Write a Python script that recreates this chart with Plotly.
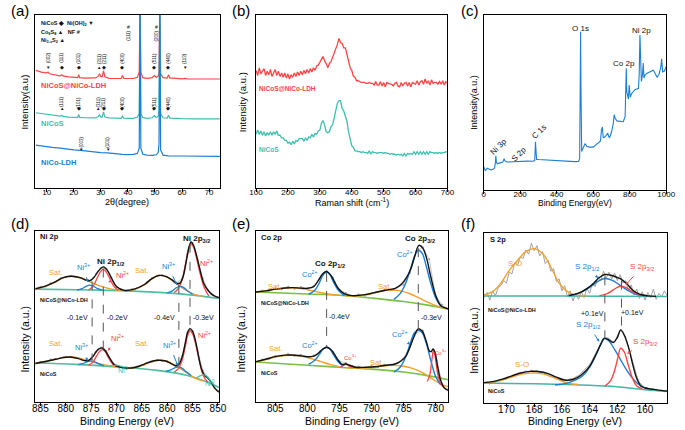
import plotly.graph_objects as go

W, H = 685, 430
FONT = "Liberation Sans, Arial, sans-serif"

RED = "#ff4545"
TEAL = "#3dbfad"
BLUE = "#1c7fd6"
ORANGE = "#f2a12c"
GREEN = "#7ac143"
BLACK = "#111111"
GRAY = "#a0a0a0"

# ---------------- (a) XRD ----------------
xrd_nicos_ldh = [(6, 68), (8, 67), (10, 66.5), (10.5, 67), (11, 66), (13, 65.3), (15, 64.8), (15.5, 65.5),
                 (16, 64.8), (18, 64.2), (20, 63.8), (21.5, 63.8), (21.8, 65.5), (22.2, 63.8), (24, 63.5),
                 (26, 63.5), (28, 63.6), (29, 64.5), (29.5, 66), (30, 64.5), (30.5, 64.3), (31, 67.7),
                 (31.5, 64.3), (33, 63.4), (35, 63.3), (37.5, 63.3), (38, 65), (38.5, 63.4), (40, 63.3),
                 (42, 63.4), (43.5, 64), (44.2, 67), (44.5, 110), (44.8, 67), (45.5, 63.8), (47, 63.4),
                 (49, 63.8), (49.8, 65), (50.5, 64), (51.2, 64.5), (51.5, 68), (51.8, 110), (52.1, 66),
                 (53, 63.8), (54.5, 63.5), (55, 65.4), (55.5, 63.6), (57, 63.3), (60, 63.1), (61, 63.4),
                 (62, 63.1), (65, 63), (70, 63), (74, 63)]
xrd_nicos = [(6, 43.5), (8, 43), (10, 42.8), (12, 42), (15, 41.5), (15.5, 42), (16, 41.4), (18, 41),
             (20, 40.8), (21.5, 40.8), (21.8, 42.5), (22.2, 40.8), (24, 40.6), (26, 40.5), (28, 40.5),
             (29, 41.2), (29.5, 42.3), (30, 41), (30.5, 41), (31, 44), (31.5, 41), (33, 40.5), (35, 40.3),
             (37.5, 40.3), (38, 41.5), (38.5, 40.3), (40, 40.2), (42, 40.3), (43.5, 41), (44.2, 43),
             (44.5, 110), (44.8, 43), (45.5, 40.8), (47, 40.3), (49, 40.6), (49.8, 41.8), (50.5, 40.8),
             (51.2, 41.5), (51.5, 45), (51.8, 110), (52.1, 43), (53, 40.6), (54.5, 40.4), (55, 42),
             (55.5, 40.4), (57, 40.2), (60, 40.1), (65, 40), (70, 40), (74, 40)]
xrd_nico_ldh = [(6, 24.8), (8, 24.5), (10, 24), (12, 23.5), (15, 23), (18, 22.3), (20, 22), (22.5, 21.8),
                (25, 21.2), (28, 20.8), (30, 20.4), (32.5, 20.3), (35, 19.8), (38, 19.4), (40, 19.3),
                (42, 19.4), (43.5, 20), (44.2, 23), (44.5, 110), (44.8, 23), (45.5, 19.5), (47, 19),
                (49, 18.9), (50.5, 19.2), (51.2, 20.5), (51.5, 25), (51.8, 110), (52.1, 22), (53, 19),
                (55, 18.6), (60, 18.5), (65, 18.4), (70, 18.3), (74, 18.3)]

peaks_top = [(10.5, "(002)", "▼"), (15.5, "(111)", "◆"), (21.8, "(101)", "◆"), (29.3, "(311)", "▲"),
             (31.1, "(211)", "◆"), (38, "(400)", "◆"), (49.8, "(511)", "◆"), (55, "(440)", "◆"),
             (61, "(113)", "▼")]
peaks_mid = [(15.5, "(111)", "▲"), (21.8, "(101)", "◆"), (29, "(311)", "▲"), (31.1, "(211)", "◆"),
             (38, "(400)", "◆"), (49.8, "(511)", "◆"), (55, "(440)", "◆")]
peaks_low = [(22.8, "(003)", "▼"), (32.5, "(101)", "▼")]
peaks_nf = [(40.4, "(111)", "#"), (50.7, "(200)", "#")]

# ---------------- (b) Raman ----------------
raman_shift = list(range(100, 701, 5))
raman_ldh = [68, 65, 69.5, 66, 67.5, 69, 65, 67.5, 65.5, 68.5,
             64.5, 67, 68.5, 65, 67.5, 64.5, 66.5, 64, 66.5, 63.5,
             66, 63, 65.5, 64, 66.5, 64.5, 67, 65, 67.5, 65.5,
             68, 66, 68.5, 66.5, 69, 67, 69.5, 68, 70.5, 71,
             72.5, 74, 76, 73.5, 72, 69.5, 72, 73, 75.5, 77,
             80.5, 83, 86.5, 84, 83.5, 81, 81, 76.5, 74, 69.5,
             68, 64.5, 64, 62, 62, 61.5, 61, 61, 61, 60.5,
             60.5, 61, 60.5, 60.5, 59.5, 61.5, 59.5, 59.5, 61.5, 59,
             61, 58.5, 61, 60.5, 60, 60, 59, 60.5, 61, 59,
             58.5, 61, 59, 60.5, 61, 59, 61, 58.5, 61, 60.5,
             60, 62, 59.5, 61.5, 62, 60, 63, 60.5, 62, 59.5,
             62.5, 60.5, 61, 61, 60, 61.5, 60, 62, 59.5, 61.5,
             60.5]
raman_nicos = [31, 33.5, 31, 33, 30.5, 32.5, 30, 32, 30.5, 32.5,
               30.5, 32.5, 31, 33, 30.5, 30.5, 29, 29, 27.5, 27.5,
               26, 26.5, 25, 27, 25.5, 27.5, 27, 28.5, 28.5, 28.5,
               27, 29, 27.5, 29.5, 29, 31, 29.5, 31.5, 31, 33,
               33.5, 37.5, 39, 36.5, 32.5, 32, 32.5, 35.5, 36.5, 40.5,
               43.5, 49, 50.5, 50.5, 46, 44.5, 41.5, 38.5, 32.5, 29,
               24.5, 23.5, 21.5, 21.5, 21, 21, 20.5, 21, 20.5, 20.5,
               20, 21.5, 19.5, 21, 20.5, 20.5, 20, 20.5, 20.5, 20.5,
               20, 20.5, 20, 20, 19.5, 20, 19.5, 19.5, 19, 19.5,
               19, 19.5, 18.5, 20, 18.5, 20, 19.5, 20, 19.5, 21,
               19.5, 21, 19.5, 21, 19.5, 21, 19.5, 21, 19.5, 21,
               20.5, 20.5, 20, 20.5, 20, 20.5, 20, 20.5, 20.5, 21,
               20.5]

# ---------------- (c) XPS survey ----------------
survey = [(0, 13.5), (5, 11.5), (10, 11), (20, 12.5), (30, 12), (40, 11.5), (50, 11.8), (60, 12.5), (65, 16),
          (67, 19.5), (70, 16), (75, 15), (90, 15.5), (105, 16), (112, 17.8), (118, 16.5), (130, 16),
          (160, 16.2), (200, 16.4), (240, 16.5), (270, 16.4), (280, 16.8), (284, 27.5), (287, 17.5),
          (290, 17.5), (300, 17.4), (350, 17), (400, 16.8), (450, 16.5), (500, 16.2), (520, 16.3),
          (526, 18), (529, 60), (531, 90.5), (533, 60), (537, 22), (545, 24), (555, 26.5), (565, 25),
          (580, 24.5), (600, 24.5), (620, 26), (630, 27), (640, 28), (645, 34), (650, 36), (655, 30),
          (660, 30), (670, 31), (680, 32.5), (685, 30.5), (690, 30), (700, 33), (710, 38), (715, 43),
          (720, 41), (730, 39.5), (750, 39), (765, 39), (775, 42), (778, 55), (781, 69.5), (784, 56),
          (788, 53), (793, 52), (797, 60), (800, 54), (803, 53), (810, 55), (830, 57.5), (848, 58),
          (852, 66), (856, 88.5), (860, 70), (864, 62), (870, 66), (874, 72.5), (878, 64), (885, 66),
          (900, 67), (930, 68.5), (950, 64.5), (960, 66), (970, 70), (975, 75), (980, 67.5), (990, 68),
          (1000, 70.5)]
survey_labels = [(83.6, 24.8, "Ni 3p", -45), (194, 20, "S 2p", -45), (306, 33.3, "C 1s", -45),
                 (532, 92.4, "O 1s", 0), (769, 72.4, "Co 2p", 0), (866, 91.4, "Ni 2p", 0)]

# ---------------- (d) Ni 2p ----------------
ni_be = list(range(886, 849, -1))
ni_raw_top = [66, 67.4, 67.5, 69.5, 70.2, 72.3, 73, 73.8, 73.3, 72.3,
              71.5, 71.2, 74.8, 78.3, 78, 72.7, 67.2, 65.8, 65, 65.9,
              66.5, 67.8, 70, 72.5, 73.8, 74.2, 73, 71.5, 69.8, 72.4,
              86.5, 93, 83, 72.5, 65.7, 62.8, 61.2]
ni_raw_bot = [22.3, 23.4, 23.5, 24.8, 25.2, 25.6, 26.5, 26.1, 25.9, 25.1,
              24, 25, 29.3, 31.8, 29.7, 24, 21.2, 20.4, 19.6, 20.2,
              20.7, 21.5, 22.9, 23.6, 24.6, 24, 23.8, 22.1, 21.4, 27.2,
              40.8, 41.2, 29.8, 18.5, 14.3, 10.5, 6.4]
ni_bg_top = [(886, 66), (875, 65.5), (868, 65), (860, 63.8), (855, 62.5), (849.8, 60.5)]
ni_sat1_top = [(886, 66), (884, 67.7), (882, 70.3), (880.5, 72.6), (878.8, 73.5), (877, 72.5), (875, 70),
               (873, 67.6), (871, 66), (869, 65.3)]
ni3_top1 = [(877.8, 65.4), (876.8, 66.3), (876, 67.6), (875.3, 68.3), (874.6, 67.8), (873.8, 66.5), (872.8, 65.4)]
ni2_top1 = [(875.5, 65.5), (874.6, 67.8), (873.8, 72.5), (873.2, 76), (872.6, 77.5), (872, 76), (871.3, 72),
            (870.5, 67.6), (869.6, 65.3)]
ni_sat2_top = [(868.5, 65), (866.5, 65.8), (864.5, 68.5), (863, 72), (861.7, 74), (860.3, 73.3), (859, 71),
               (857.5, 67.8), (856, 64.8), (854.5, 62.8), (853, 61.8)]
ni3_top2 = [(860, 63.8), (859, 65), (858.2, 66.8), (857.5, 67.6), (856.8, 67), (856, 65), (855, 63)]
ni2_top2 = [(858.6, 64), (857.8, 66.5), (857, 72), (856.3, 82), (855.8, 89.5), (855.3, 92.6), (854.8, 90.5),
            (854.2, 84), (853.5, 75), (852.7, 67), (851.8, 62)]
ni_env_top = [(886, 66.2), (884, 67.8), (882, 70.4), (880.5, 72.7), (878.8, 73.5), (877, 72.6), (876, 71.3),
              (875.2, 71), (874.4, 73), (873.6, 76.5), (872.6, 79), (871.8, 77), (871, 72.5), (870, 67.5),
              (868.5, 65.3), (866.5, 66), (864.5, 68.7), (863, 72.2), (861.7, 74), (860.3, 73.5), (859, 71.3),
              (858.2, 69.3), (857.5, 69.5), (856.8, 74), (856.2, 83), (855.7, 90.5), (855.3, 93.6),
              (854.8, 91.5), (854.2, 85.5), (853.5, 77), (852.8, 69.5), (852, 65.5), (851, 62.5), (849.8, 61)]
ni_bg_bot = [(886, 22.8), (878, 22), (870, 20.5), (862, 18.5), (856, 15.5), (852, 11.5), (849.8, 8.5)]
ni_sat1_bot = [(886, 22.8), (884, 23.7), (882, 25), (880.5, 26), (879.1, 26.3), (877.5, 25.7), (876, 24.5),
               (874, 22.8), (872, 21.5), (870, 20.6)]
ni3_bot1 = [(877.5, 21.9), (876.5, 22.6), (875.7, 23.6), (875, 24), (874.3, 23.5), (873.5, 22.3), (872.5, 21.3)]
ni2_bot1 = [(875.5, 21.6), (874.7, 23.2), (874, 26.5), (873.4, 29.3), (872.8, 30.6), (872.2, 29.3),
            (871.6, 26), (870.8, 22.3), (870, 20.6)]
ni0_bot1 = [(871.5, 20.6), (870.8, 21.2), (870, 21.6), (869.2, 21), (868.5, 20.3)]
ni_sat2_bot = [(868, 19.6), (866, 20.3), (864.5, 21.8), (863, 23.5), (861.7, 24.4), (860.3, 24), (859, 22.5),
               (857.5, 19.8), (856, 16.8), (854.5, 14), (853, 12.3)]
ni3_bot2 = [(860.3, 18), (859.3, 18.8), (858.5, 20), (857.8, 20.5), (857.1, 19.8), (856.3, 17.8), (855.3, 15.5)]
ni2_bot2 = [(858.6, 17.5), (857.8, 19.5), (857, 25), (856.4, 33), (856, 38.5), (855.5, 41.8), (855, 40),
            (854.4, 34), (853.7, 24.5), (852.9, 15.5), (852, 11.5)]
ni0_bot2 = [(854.2, 14.2), (853.6, 15.2), (853, 15.8), (852.5, 15.6), (852, 14.5), (851.4, 12.2), (850.8, 9.8)]
ni_env_bot = [(886, 22.5), (884, 23.7), (882, 25), (880.5, 26), (879.1, 26.3), (877.5, 25.4), (876.3, 24.2),
              (875.5, 24.3), (874.7, 26.4), (874, 29.5), (873.4, 31.2), (872.8, 31.6), (872.2, 30),
              (871.5, 26.5), (870.5, 22), (869.5, 20.5), (868, 19.8), (866, 20.5), (864.5, 22.2), (863, 23.8),
              (861.7, 24.4), (860.3, 24), (859.2, 22.5), (858.4, 21.2), (857.7, 22), (857, 27), (856.4, 35),
              (856, 40.5), (855.5, 42.9), (855, 41.5), (854.4, 35.5), (853.8, 26.5), (853.2, 19), (852.6, 15.5),
              (852, 14), (851.3, 11.5), (850.6, 8), (849.8, 5.8)]
ni_shifts = [(874.8, 70.5, 24.5), (872.6, 78, 31), (857.7, 68.5, 21.5), (855.5, 92.5, 42.5)]

# ---------------- (e) Co 2p ----------------
co_be = list(range(808, 777, -1))
co_raw_top = [64.5, 65.2, 64.8, 66.5, 66, 67.4, 66.3, 67.2, 66, 67.8,
              72.5, 76.8, 72.8, 65.5, 63.8, 61.8, 62.9, 62.2, 63.5, 64.3,
              65.5, 65.2, 67, 68.5, 75.5, 88, 90.5, 83.5, 62, 56.8,
              54.2]
co_raw_bot = [23.2, 24.8, 25.2, 26.9, 26.8, 28, 27, 27.6, 26.2, 27.2,
              29.5, 32.4, 29.5, 23.8, 22.8, 21, 20.8, 19.8, 21, 20.4,
              21.8, 21.5, 23, 25.5, 32.5, 40.5, 41.8, 29.5, 28.5, 10.5,
              7.2]
co_bg_top = [(808, 64.3), (800, 63.2), (795, 62.4), (790, 60.8), (785, 58.8), (781, 56.5), (778, 54.3)]
co_sat1_top = [(808, 64.3), (806.5, 65), (805, 65.9), (803.5, 66.6), (802.3, 66.8), (801, 66.4), (799.5, 65.3),
               (798, 64), (796.5, 63), (795, 62.5)]
co2_top1 = [(799.8, 63), (798.8, 65.5), (798.1, 70), (797.5, 74.5), (797, 76), (796.5, 74.5), (795.9, 70),
            (795.2, 65.5), (794.2, 62.2)]
co_sat2_top = [(794, 62), (792, 62.1), (790, 63.3), (788.5, 64.8), (787, 65.5), (785.5, 65), (784, 63.3),
               (782.5, 60.7), (781, 58), (779.5, 55.8), (778, 54.5)]
co2_top2 = [(786.5, 60), (785.5, 63.5), (784.6, 70), (783.9, 78), (783.3, 85), (782.7, 88.7), (782.1, 87),
            (781.5, 80), (780.8, 70), (780, 61), (779.2, 56)]
co_env_top = [(808, 64.3), (806.5, 65), (805, 66), (803.5, 66.7), (802.3, 66.9), (801, 66.6), (800, 66.5),
              (799, 67.5), (798.3, 71), (797.6, 75), (797, 76.3), (796.4, 74.5), (795.8, 70.5), (795.2, 66.5),
              (794.2, 63.2), (793, 62.2), (791, 62.8), (789, 64.5), (787.5, 65.6), (786.3, 66.5), (785.3, 69),
              (784.5, 73), (783.8, 78.5), (783.2, 86), (782.6, 91.6), (782, 90), (781.4, 84), (780.8, 74),
              (780, 62.5), (779.2, 56.5), (778, 54.5)]
co_bg_bot = [(808, 23.4), (800, 21.5), (795, 20.3), (790, 19.2), (785, 17.5), (781, 15.3), (778, 13)]
co_sat1_bot = [(808, 23.5), (806.5, 24.8), (805, 26.3), (803.5, 27.2), (802.5, 27.3), (801, 26.8), (799.5, 25.5),
               (798, 23.8), (796.5, 22), (795, 20.7)]
co2_bot1 = [(799.8, 22), (798.8, 24.5), (798.1, 28), (797.5, 31), (797, 31.8), (796.5, 31), (795.9, 27.5),
            (795.2, 23.5), (794.4, 21)]
co3_bot1 = [(794.9, 20.3), (794.4, 21.4), (794, 22), (793.6, 21.3), (793.1, 20)]
co_sat2_bot = [(794, 20), (792, 19.8), (790, 20.2), (788.5, 20.9), (786.8, 21.4), (785, 20.9), (783.5, 19.5),
               (782, 17), (780.5, 13.5), (779.2, 10.5), (778, 9)]
co2_bot2 = [(786.5, 17.5), (785.5, 20.5), (784.6, 27), (783.9, 35), (783.3, 40.5), (782.7, 42), (782.1, 40.5),
            (781.5, 35), (780.8, 25), (780, 15), (779.2, 10)]
co3_bot2 = [(781.3, 12), (780.9, 16), (780.6, 24), (780.35, 30), (780.1, 27), (779.7, 17), (779.2, 10.5),
            (778.6, 8)]
co_env_bot = [(808, 23.6), (806.5, 25), (805, 26.5), (803.5, 27.4), (802.5, 27.5), (801, 27), (800, 26.5),
              (799, 26.8), (798.3, 28.5), (797.6, 31), (797, 32), (796.4, 31), (795.8, 28), (795.2, 24.5),
              (794.6, 22), (794, 22.2), (793.4, 21.5), (792.5, 20.3), (791, 20.3), (789, 20.8), (787.5, 21.6),
              (786.3, 22.2), (785.4, 24), (784.6, 27), (784, 32), (783.4, 38), (782.7, 42.8), (782.1, 41.5),
              (781.5, 36), (781, 30), (780.7, 29.5), (780.4, 31), (780.1, 29), (779.7, 21), (779.2, 12.5),
              (778.6, 8), (778, 6.8)]
co_shifts = [(797.0, 75.5, 32), (782.7, 90, 42.5)]

# ---------------- (f) S 2p ----------------
s_be = [round(171.6 - 0.2 * i, 1) for i in range(67)]
s_raw_top = [62, 65, 60.5, 66, 63, 68, 69, 72, 70.5, 77,
             76, 82.5, 81, 86, 85, 90, 87.5, 94, 89.5, 92.5,
             86.5, 89, 82, 84, 77.5, 79, 71.5, 73, 66, 69,
             62.5, 66, 60, 64.5, 61, 65.5, 62, 67.5, 64.5, 70.5,
             68.5, 74.5, 72, 77.5, 73.5, 77, 73, 76.5, 72, 75.5,
             70.5, 72, 66.5, 69.5, 63.5, 67, 61.5, 65.5, 60.5, 65,
             62, 67, 61, 64.5, 62.5, 66, 63]
s_raw_bot = [11.5, 12.5, 11, 12.8, 12.2, 13.5, 13, 14.5, 14.2, 15.5,
             15.2, 16.8, 16.5, 18, 17.6, 18.9, 18.2, 19.3, 18.4, 19,
             17.8, 18.3, 17, 17.2, 15.8, 15.6, 14.3, 14, 13.2, 13.8,
             13, 14.4, 14.2, 15.5, 16, 17.8, 19, 21, 22.5, 25.5,
             28, 31.5, 34, 37.5, 38.5, 38, 36.5, 36, 39.5, 42.5,
             42, 38, 33, 27.5, 21.5, 16, 12, 10.2, 9, 8.5,
             8, 8.4, 7.5, 7, 7.6, 6.8, 7.2]
s_bg_top = [(171.65, 63), (166, 62.9), (162, 62.8), (158.4, 62.6)]
so_top = [(171.65, 63.5), (171, 65.5), (170.4, 70.5), (169.8, 78), (169.2, 84), (168.6, 89), (168, 90.8),
          (167.4, 88), (166.8, 80), (166.2, 70.5), (165.6, 65.5), (165, 63.5), (164.2, 63)]
s12_top = [(165.5, 63), (164.8, 64.5), (164.2, 67), (163.7, 69.8), (163.3, 72), (162.9, 73.2), (162.4, 72.3),
           (161.9, 69.8), (161.3, 66.5), (160.7, 64), (160, 63)]
s32_top = [(163.3, 63), (162.7, 64.5), (162.3, 66.5), (162, 68), (161.76, 68.75), (161.4, 68), (161, 66),
           (160.5, 64), (159.8, 63)]
s_env_top = [(165.5, 63.2), (164.8, 64.6), (164.2, 67.3), (163.7, 70.5), (163.3, 73.8), (162.9, 75.6),
             (162.4, 75), (162, 73.8), (161.76, 73), (161.3, 70), (160.9, 66.5), (160.4, 64), (159.8, 63),
             (159.2, 62.7)]
s_bg_bot = [(171.65, 11.7), (168, 11.3), (165, 10.7), (162.5, 9.8), (160, 7.8), (158.4, 6.8)]
so_bot = [(171.65, 11.8), (171, 12.3), (170.3, 13.5), (169.6, 15.3), (168.9, 17), (168.3, 17.6), (167.8, 17.6),
          (167.3, 17), (166.7, 15.2), (166.1, 13.2), (165.5, 11.6), (164.8, 10.9)]
s12_bot = [(166.5, 10.6), (165.5, 12), (164.5, 16), (164, 21), (163.5, 29), (163.2, 34.5), (162.94, 38.1),
           (162.6, 36.5), (162.2, 31.5), (161.8, 26), (161.3, 19), (160.8, 13.5), (160.3, 10), (159.8, 8.5)]
s32_bot = [(162.9, 10), (162.5, 13), (162.2, 19), (161.95, 27), (161.76, 32.2), (161.5, 30), (161.2, 22),
           (160.9, 14.5), (160.6, 10), (160.2, 8.5)]
s_env_bot = [(171.65, 12), (171, 12.6), (170.3, 14), (169.6, 16), (168.9, 17.8), (168.3, 18.6), (167.7, 18.5),
             (167, 17.3), (166.4, 15.2), (165.8, 13.5), (165.2, 13.8), (164.6, 16.5), (164, 21.5), (163.5, 29.3),
             (163.2, 34.5), (162.94, 38), (162.6, 37), (162.3, 35.5), (162, 38.5), (161.76, 43), (161.5, 40),
             (161.2, 33), (160.9, 23), (160.6, 14.5), (160.3, 10), (160, 8.8), (159.4, 8), (158.4, 7)]
s_shifts = [(162.9, 74.5, 38), (161.7, 72, 42.5)]

# ---------------- layout of the six panels ----------------
BOX = {1: (29, 218, 15, 188), 2: (255, 451, 15, 188), 3: (488, 675, 15, 190),
       4: (29, 217, 231, 402), 5: (255, 452, 231, 402), 6: (488, 676, 233, 403)}
XRANGE = {1: [5.8, 74], 2: [100, 700], 3: [0, 1000], 4: [886, 849.8], 5: [808, 778], 6: [171.65, 158.4]}
TICKS = {1: list(range(10, 71, 10)), 2: list(range(100, 701, 100)), 3: list(range(0, 1001, 200)),
         4: list(range(885, 849, -5)), 5: list(range(805, 779, -5)), 6: list(range(170, 159, -2))}


def ax(i):
    return ("x" if i == 1 else f"x{i}", "y" if i == 1 else f"y{i}")


fig = go.Figure()
annotations = []


def line(i, xs, ys, color, width=1.3, shape="linear", mode="lines", dash=None, msize=2):
    xa, ya = ax(i)
    fig.add_trace(go.Scatter(x=list(xs), y=list(ys), xaxis=xa, yaxis=ya, mode=mode,
                             line=dict(color=color, width=width, shape=shape, dash=dash),
                             marker=dict(size=msize, color=color), hoverinfo="skip", showlegend=False))


def curve(i, pts, color, width=1.3, shape="spline"):
    xs, ys = zip(*pts)
    line(i, xs, ys, color, width, shape)


def label(i, x, y, text, size=8, color=BLACK, bold=False, angle=0, xanchor="center", head=None):
    xa, ya = ax(i)
    if bold:
        text = f"<b>{text}</b>"
    a = dict(xref=xa, yref=ya, text=text, textangle=angle, xanchor=xanchor, yanchor="middle",
             font=dict(size=size, color=color, family=FONT))
    if head is None:
        a.update(x=x, y=y, showarrow=False)
    else:
        a.update(x=head[0], y=head[1], ax=x, ay=y, axref=xa, ayref=ya, showarrow=True,
                 arrowhead=2, arrowsize=0.6, arrowwidth=1, arrowcolor=color, standoff=0, startstandoff=4)
    annotations.append(a)


def paper_text(px, py, text, size, angle=0, xanchor="center"):
    annotations.append(dict(xref="paper", yref="paper", x=px / W, y=1 - py / H, text=text, showarrow=False,
                            textangle=angle, xanchor=xanchor, yanchor="middle",
                            font=dict(size=size, color="black", family=FONT)))


# (a)
curve(1, xrd_nicos_ldh, RED, 1.2, "linear")
curve(1, xrd_nicos, TEAL, 1.2, "linear")
curve(1, xrd_nico_ldh, BLUE, 1.2, "linear")
for x, t, s in peaks_top:
    label(1, x, 75, t, 4.5, angle=-90)
    label(1, x, 69.8, s, 4.5)
for x, t, s in peaks_mid:
    label(1, x, 49.5, t, 4.5, angle=-90)
    label(1, x, 46, s, 4.5)
for x, t, s in peaks_low:
    label(1, x, 26.5, t, 4.5, angle=-90)
    label(1, x, 22.2, s, 4.5)
for x, t, s in peaks_nf:
    label(1, x, 88, t, 4.5, angle=-90)
    label(1, x, 93.3, s, 5)
label(1, 7, 94.8, "NiCoS ◆  Ni(OH)<sub>2</sub> ▼", 5.5, bold=True, xanchor="left")
label(1, 7, 89.8, "Co<sub>9</sub>S<sub>8</sub> ▲   NF #", 5.5, bold=True, xanchor="left")
label(1, 7, 85, "Ni<sub>3-x</sub>S<sub>2</sub> ▲", 5.5, bold=True, xanchor="left")
label(1, 7, 59.5, "NiCoS@NiCo-LDH", 7.5, RED, True, xanchor="left")
label(1, 7, 37.5, "NiCoS", 7.5, TEAL, True, xanchor="left")
label(1, 7, 14.5, "NiCo-LDH", 7.5, BLUE, True, xanchor="left")

# (b)
line(2, raman_shift, raman_ldh, RED, 1.3)
line(2, raman_shift, raman_nicos, TEAL, 1.3)
label(2, 104, 57.5, "NiCoS@NiCo-LDH", 6.5, RED, True, xanchor="left")
label(2, 104, 22, "NiCoS", 6.5, TEAL, True, xanchor="left")

# (c)
curve(3, survey, BLUE, 1.1, "linear")
for x, y, t, ang in survey_labels:
    label(3, x, y, t, 8, angle=ang)

# (d)
line(4, ni_be, ni_raw_top, GRAY, 0.6, mode="lines+markers", msize=2)
line(4, ni_be, ni_raw_bot, GRAY, 0.6, mode="lines+markers", msize=2)
for bg, sats, n3, n2, env in [(ni_bg_top, [ni_sat1_top, ni_sat2_top], [ni3_top1, ni3_top2], [ni2_top1, ni2_top2], ni_env_top),
                              (ni_bg_bot, [ni_sat1_bot, ni_sat2_bot], [ni3_bot1, ni3_bot2], [ni2_bot1, ni2_bot2], ni_env_bot)]:
    curve(4, bg, "#4fbf9f", 1.6)
    for p in sats:
        curve(4, p, ORANGE, 1.4)
    for p in n3:
        curve(4, p, BLUE, 1.3)
    for p in n2:
        curve(4, p, RED, 1.3)
    curve(4, env, BLACK, 1.4)
curve(4, ni0_bot1, TEAL, 1.2)
curve(4, ni0_bot2, TEAL, 1.2)
for x, y0, y1 in ni_shifts:
    line(4, [x, x], [y0, y1], "#555555", 1, dash="dash")
label(4, 885.5, 96.5, "Ni 2p", 7.5, bold=True, xanchor="left")
label(4, 854.3, 95.5, "Ni 2p<sub>3/2</sub>", 8, bold=True)
label(4, 871.1, 82, "Ni 2p<sub>1/2</sub>", 8, bold=True)
label(4, 882, 76, "Sat.", 7.5, ORANGE)
label(4, 865, 77, "Sat.", 7.5, ORANGE)
label(4, 876.6, 79, "Ni<sup>3+</sup>", 7.5, BLUE, head=(875.6, 70))
label(4, 868.8, 74.5, "Ni<sup>2+</sup>", 7.5, RED, head=(871.6, 70))
label(4, 859.8, 79.5, "Ni<sup>3+</sup>", 7.5, BLUE, head=(858.1, 68.5))
label(4, 852.2, 81.5, "Ni<sup>2+</sup>", 7.5, RED, head=(854.2, 77))
label(4, 882, 34, "Sat.", 7.5, ORANGE)
label(4, 865, 34, "Sat.", 7.5, ORANGE)
label(4, 876.8, 32, "Ni<sup>3+</sup>", 7.5, BLUE, head=(875.7, 24))
label(4, 869.8, 37.5, "Ni<sup>2+</sup>", 7.5, RED, head=(871.7, 30))
label(4, 859.5, 33.5, "Ni<sup>3+</sup>", 7.5, BLUE, head=(857.9, 21))
label(4, 852.6, 39, "Ni<sup>2+</sup>", 7.5, RED, head=(854.6, 34))
label(4, 868.8, 19, "Ni<sup>0</sup>", 7, TEAL)
label(4, 851.6, 11, "Ni<sup>0</sup>", 7, TEAL)
label(4, 875.2, 49.3, "-0.1eV", 7, xanchor="right")
label(4, 872.3, 49.3, "-0.2eV", 7, xanchor="left")
label(4, 858.0, 49.3, "-0.4eV", 7, xanchor="right")
label(4, 855.3, 49.3, "-0.3eV", 7, xanchor="left")
label(4, 885.5, 59.5, "NiCoS@NiCo-LDH", 5.5, bold=True, xanchor="left")
label(4, 885.5, 16.5, "NiCoS", 5.5, bold=True, xanchor="left")

# (e)
line(5, co_be, co_raw_top, GRAY, 0.6, mode="lines+markers", msize=2)
line(5, co_be, co_raw_bot, GRAY, 0.6, mode="lines+markers", msize=2)
curve(5, co_bg_top, GREEN, 1.6)
curve(5, co_sat1_top, ORANGE, 1.4)
curve(5, co_sat2_top, ORANGE, 1.4)
curve(5, co2_top1, BLUE, 1.4)
curve(5, co2_top2, BLUE, 1.4)
curve(5, co_env_top, BLACK, 1.4)
curve(5, co_bg_bot, GREEN, 1.6)
curve(5, co_sat1_bot, ORANGE, 1.4)
curve(5, co_sat2_bot, ORANGE, 1.4)
curve(5, co2_bot1, BLUE, 1.4)
curve(5, co2_bot2, BLUE, 1.4)
curve(5, co3_bot1, RED, 1.3)
curve(5, co3_bot2, RED, 1.3)
curve(5, co_env_bot, BLACK, 1.4)
for x, y0, y1 in co_shifts:
    line(5, [x, x], [y0, y1], "#555555", 1, dash="dash")
label(5, 807.5, 96, "Co 2p", 7.5, bold=True, xanchor="left")
label(5, 782.4, 95.5, "Co 2p<sub>3/2</sub>", 8, bold=True)
label(5, 796.4, 80.5, "Co 2p<sub>1/2</sub>", 8, bold=True)
label(5, 799.6, 75, "Co<sup>2+</sup>", 7.5, BLUE, head=(798.2, 70))
label(5, 784.8, 86.5, "Co<sup>2+</sup>", 7.5, BLUE, head=(783.4, 81))
label(5, 805.2, 67.5, "Sat.", 7.5, ORANGE)
label(5, 787.9, 67.5, "Sat.", 7.5, ORANGE)
label(5, 796.9, 50, "-0.4eV", 7, xanchor="left")
label(5, 782.6, 49.6, "-0.3eV", 7, xanchor="left")
label(5, 804.9, 31.5, "Sat.", 7.5, ORANGE)
label(5, 789.2, 23, "Sat.", 7.5, ORANGE)
label(5, 799.6, 33.5, "Co<sup>2+</sup>", 7.5, BLUE, head=(798, 28.3))
label(5, 785.6, 39.5, "Co<sup>2+</sup>", 7.5, BLUE, head=(784, 33.5))
label(5, 793.3, 26.5, "Co<sup>3+</sup>", 6, RED, head=(794.1, 21.5))
label(5, 779.2, 29.5, "Co<sup>3+</sup>", 6, RED, head=(780, 26))
label(5, 807.5, 58, "NiCoS@NiCo-LDH", 5.5, bold=True, xanchor="left")
label(5, 807.5, 17.2, "NiCoS", 5.5, bold=True, xanchor="left")

# (f)
line(6, s_be, s_raw_top, GRAY, 1)
line(6, s_be, s_raw_bot, GRAY, 1)
curve(6, s_bg_top, "#45b5a5", 1.5)
curve(6, so_top, ORANGE, 1.4)
curve(6, s12_top, BLUE, 1.4)
curve(6, s32_top, RED, 1.4)
curve(6, s_env_top, BLACK, 1.4)
curve(6, s_bg_bot, "#45b5a5", 1.5)
curve(6, so_bot, ORANGE, 1.4)
curve(6, s12_bot, BLUE, 1.4)
curve(6, s32_bot, RED, 1.4)
curve(6, s_env_bot, BLACK, 1.4)
for x, y0, y1 in s_shifts:
    line(6, [x, x], [y0, y1], "#555555", 1, dash="dash")
label(6, 171.3, 96, "S 2p", 7.5, bold=True, xanchor="left")
label(6, 169.4, 82, "S-O", 8, ORANGE)
label(6, 164.2, 80, "S 2p<sub>1/2</sub>", 8, BLUE, head=(163.4, 73.5))
label(6, 160.2, 80, "S 2p<sub>3/2</sub>", 8, RED, head=(161.4, 69.5))
label(6, 163.8, 52.7, "+0.1eV", 7)
label(6, 160.9, 53, "+0.1eV", 7)
label(6, 168.9, 22.5, "S-O", 8, ORANGE)
label(6, 164.1, 46, "S 2p<sub>1/2</sub>", 8, BLUE, head=(163.3, 36))
label(6, 160.0, 36, "S 2p<sub>3/2</sub>", 8, RED, head=(161.3, 29))
label(6, 171.5, 54.7, "NiCoS@NiCo-LDH", 5.5, bold=True, xanchor="left")
label(6, 171.5, 6.8, "NiCoS", 5.5, bold=True, xanchor="left")

# panel letters and axis titles
for px, py, t in [(2, 10, "(a)"), (228, 10, "(b)"), (463, 10, "(c)"),
                  (2, 223, "(d)"), (228, 223, "(e)"), (463, 223, "(f)")]:
    paper_text(px, py, t, 15, xanchor="left")
paper_text(123, 202, "2θ(degree)", 9)
paper_text(353, 202, "Raman shift (cm<sup>-1</sup>)", 9)
paper_text(582, 203, "Binding Energy(eV)", 8.5)
paper_text(17, 102, "Intensity(a.u)", 9.5, -90)
paper_text(241, 102, "Intensity (a.u.)", 9.5, -90)
paper_text(478, 102, "Intensity(a.u.)", 9, -90)
paper_text(123, 421, "Binding Energy (eV)", 10.5)
paper_text(353, 421, "Binding Energy (eV)", 10.5)
paper_text(582, 421, "Binding Energy (eV)", 10.5)
paper_text(18, 339, "Intensity (a.u.)", 10.5, -90)
paper_text(240, 339, "Intensity (a.u.)", 10.5, -90)
paper_text(478, 340, "Intensity (a.u.)", 10.5, -90)

layout = dict(width=W, height=H, margin=dict(l=0, r=0, t=0, b=0), paper_bgcolor="white",
              plot_bgcolor="white", font=dict(family=FONT, color="black"), showlegend=False,
              annotations=annotations)
for i in range(1, 7):
    l, r, t, b = BOX[i]
    xa, ya = ax(i)
    xk = "xaxis" if i == 1 else f"xaxis{i}"
    yk = "yaxis" if i == 1 else f"yaxis{i}"
    layout[xk] = dict(domain=[l / W, r / W], range=XRANGE[i], anchor=ya, showline=True, mirror=True,
                      linecolor="black", linewidth=1, ticks="outside", ticklen=3, tickwidth=1,
                      tickcolor="black", tickvals=TICKS[i], showgrid=False, zeroline=False,
                      ticklabelstandoff=-7 if i <= 3 else -6,
                      tickfont=dict(size=8 if i <= 3 else 10, color="black"))
    layout[yk] = dict(domain=[1 - b / H, 1 - t / H], range=[0, 100], anchor=xa, showline=True, mirror=True,
                      linecolor="black", linewidth=1, showticklabels=False, ticks="", showgrid=False,
                      zeroline=False)
fig.update_layout(**layout)
# the page body has a default 8px margin; drop it so the figure fills the window
fig.write_html("out.html", config={"displayModeBar": False},
               post_script="document.body.style.margin = '0px';")
